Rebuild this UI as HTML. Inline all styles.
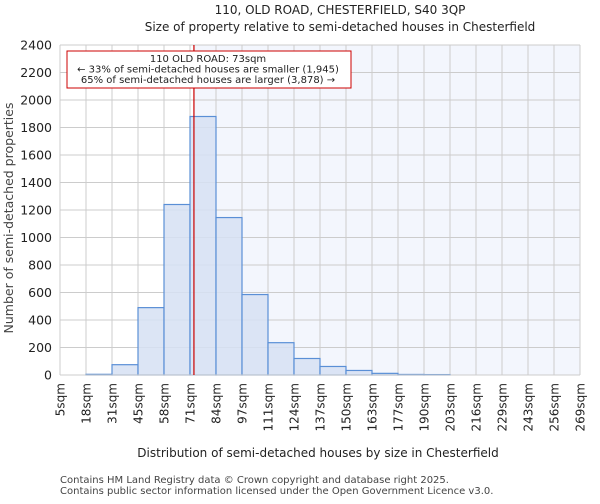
<!DOCTYPE html>
<html><head><meta charset="utf-8"><style>
body{margin:0;background:#fff;font-family:"DejaVu Sans","Liberation Sans",sans-serif;}
</style></head><body>
<svg id="c" width="600" height="500" xmlns="http://www.w3.org/2000/svg">
<text x="340" y="14" text-anchor="middle" font-size="12" fill="#222">110, OLD ROAD, CHESTERFIELD, S40 3QP</text>
<text x="340" y="31" text-anchor="middle" font-size="12" fill="#222">Size of property relative to semi-detached houses in Chesterfield</text>
<g id="plot"></g>
<text x="318" y="457" text-anchor="middle" font-size="12" fill="#222">Distribution of semi-detached houses by size in Chesterfield</text>
<text transform="translate(13,218) rotate(-90)" text-anchor="middle" font-size="12.5" fill="#444">Number of semi-detached properties</text>
<text x="60" y="483" font-size="10" fill="#444">Contains HM Land Registry data © Crown copyright and database right 2025.</text>
<text x="60" y="494" font-size="10" fill="#444">Contains public sector information licensed under the Open Government Licence v3.0.</text>
</svg>
<script>
const xTickLabels=["5sqm","18sqm","31sqm","45sqm","58sqm","71sqm","84sqm","97sqm","111sqm","124sqm","137sqm","150sqm","163sqm","177sqm","190sqm","203sqm","216sqm","229sqm","243sqm","256sqm","269sqm"];
const binStarts=[5,18.2,31.4,44.6,57.8,71,84.2,97.4,110.6,123.8,137,150.2,163.4,176.6,189.8,203,216.2,229.4,242.6,255.8];
const counts=[0,5,75,490,1240,1880,1145,585,235,120,62,33,12,4,3,0,0,0,0,0];
const yTicks=[0,200,400,600,800,1000,1200,1400,1600,1800,2000,2200,2400];
const propertySize=73;
const NS="http://www.w3.org/2000/svg";
const L=60,R=580,T=45,B=375,xMin=5,xMax=269,yMax=2400;
const xs=v=>L+(v-xMin)/(xMax-xMin)*(R-L);
const ys=v=>B-v/yMax*(B-T);
const g=document.getElementById('plot');
function mk(t,a){const e=document.createElementNS(NS,t);for(const k in a)e.setAttribute(k,a[k]);g.appendChild(e);return e;}
const px=xs(propertySize);
let bg=mk('rect',{x:px,y:T,width:R-px,height:B-T,fill:'#f3f6fd'});


xTickLabels.forEach((lab,i)=>{const x=L+i*(R-L)/(xTickLabels.length-1);
let gl=mk('line',{x1:x,x2:x,y1:T,y2:B,stroke:'#cccccc','stroke-width':1});


let t=mk('text',{transform:`translate(${x+4.5},383) rotate(-90)`,'text-anchor':'end','font-size':12,fill:'#222'});t.textContent=lab;

});
yTicks.forEach(v=>{const y=ys(v);
let gl=mk('line',{x1:L,x2:R,y1:y,y2:y,stroke:'#cccccc','stroke-width':1});


let t=mk('text',{x:52,y:y+4.5,'text-anchor':'end','font-size':12.5,fill:'#222'});t.textContent=v;

});
const bw=(R-L)/binStarts.length;
counts.forEach((c,i)=>{if(c<=0)return;const x=xs(binStarts[i]);
let r=mk('rect',{x:x,y:ys(c),width:bw,height:B-ys(c),fill:'#d6e1f3','fill-opacity':0.85,stroke:'#5a8fd6','stroke-width':1.2});

});
let ax=mk('line',{x1:L,x2:R,y1:B,y2:B,stroke:'#ccc'});


let rl=mk('line',{x1:px,x2:px,y1:T,y2:B,stroke:'#cc0000','stroke-width':1.2});


let box=mk('rect',{x:67,y:51,width:284,height:37,fill:'#fff',stroke:'#cc0000','stroke-width':1});


["110 OLD ROAD: 73sqm","← 33% of semi-detached houses are smaller (1,945)","65% of semi-detached houses are larger (3,878) →"].forEach((s,i)=>{
let t=mk('text',{x:208,y:62+i*10.5,'text-anchor':'middle','font-size':10,fill:'#222'});t.textContent=s;

});
</script>
</body></html>
